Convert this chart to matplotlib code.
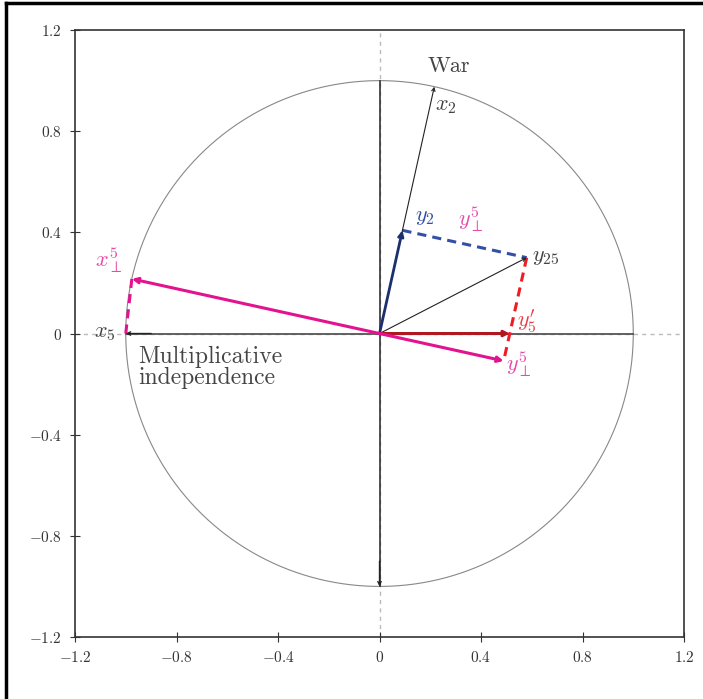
import matplotlib.pyplot as plt
import numpy as np
from matplotlib.lines import Line2D

plt.rcParams['font.family'] = 'cmr10'
plt.rcParams['mathtext.fontset'] = 'cm'
plt.rcParams['axes.formatter.use_mathtext'] = True

# vectors in the unit circle
x2 = np.array([0.216, 0.976])
x5 = np.array([-1.0, 0.0])
y25 = np.array([0.58, 0.30])
x_perp = np.array([-0.976, 0.216])

# projections
y2 = np.dot(y25, x2) * x2
y_perp = np.dot(y25, x_perp) * x_perp
t = y25[1] / x2[1]
y5p = np.array([y25[0] - t * x2[0], 0.0])

ticks = [-1.2, -0.8, -0.4, 0, 0.4, 0.8, 1.2]
tick_labels = ['$-1.2$', '$-0.8$', '$-0.4$', '$0$', '$0.4$', '$0.8$', '$1.2$']

pink = '#e3138f'
pink_lbl = '#e84aa8'
blue = '#3350a8'
navy = '#1c2f6e'
red = '#ee1c25'
darkred = '#b01820'
grey = '#444444'

fig = plt.figure(figsize=(7.03, 6.99), dpi=100)
ax = fig.add_axes([0.1067, 0.0887, 0.8663, 0.8683])
ax.set_xlim(-1.2, 1.2)
ax.set_ylim(-1.2, 1.2)
ax.set_xticks(ticks)
ax.set_yticks(ticks)
ax.set_xticklabels(tick_labels, fontsize=11, color='#333333')
ax.set_yticklabels(tick_labels, fontsize=11, color='#333333')
ax.tick_params(direction='inout', length=7, width=0.8, color='#333333', pad=6)
for s in ax.spines.values():
    s.set_color('#333333')
    s.set_linewidth(1.2)

# axis guide lines
ax.axhline(0, color='#bbbbbb', ls=(0, (3, 3)), lw=1, zorder=0)
ax.axvline(0, color='#bbbbbb', ls=(0, (3, 3)), lw=1, zorder=0)

th = np.linspace(0, 2 * np.pi, 400)
ax.plot(np.cos(th), np.sin(th), color='#888888', lw=0.8)

def arrow(p0, p1, color, lw, ms=8):
    ax.annotate('', xy=p1, xytext=p0,
                arrowprops=dict(arrowstyle='->', color=color, lw=lw,
                                shrinkA=0, shrinkB=0, mutation_scale=ms))

# vertical double arrow and x5 axis
ax.plot([0, 0], [-1, 1], color='#222222', lw=1.1)
arrow((0, -0.9), (0, -1), '#222222', 1.0, 6)
ax.plot([-1, 1], [0, 0], color='#555555', lw=1.3)
arrow((-0.9, 0), (-1, 0), '#222222', 1.0, 6)

arrow((0, 0), x2, '#222222', 0.8, 6)
arrow((0, 0), y25, '#222222', 0.8, 6)

# dashed projection lines
ax.plot([y2[0], y25[0]], [y2[1], y25[1]], color=blue, lw=2.2, ls=(0, (3, 2)))
ax.plot([y25[0], y_perp[0]], [y25[1], y_perp[1]], color=red, lw=2.2, ls=(0, (3, 2)))
ax.plot([x5[0], x_perp[0]], [x5[1], x_perp[1]], color=pink, lw=2.2, ls=(0, (3, 2)))

arrow((0, 0), y2, navy, 2.0)
arrow((0, 0), y5p, darkred, 2.2)
arrow((0, 0), x_perp, pink, 2.2)
arrow((0, 0), y_perp, pink, 2.2)

# labels
ax.text(0.19, 1.02, 'War', fontsize=16, color=grey, ha='left', va='bottom')
ax.text(0.22, 0.90, '$x_2$', fontsize=16, color=grey, ha='left', va='center')
ax.text(0.60, 0.30, '$y_{25}$', fontsize=16, color=grey, ha='left', va='center')
ax.text(0.14, 0.46, '$y_2$', fontsize=16, color=blue, ha='left', va='center')
ax.text(0.31, 0.45, r'$y_\perp^5$', fontsize=16, color=pink_lbl, ha='left', va='center')
ax.text(0.54, 0.05, "$y_5'$", fontsize=16, color='#e8404a', ha='left', va='center')
ax.text(0.50, -0.12, r'$y_\perp^5$', fontsize=16, color=pink_lbl, ha='left', va='center')
ax.text(-1.12, 0.29, r'$x_\perp^5$', fontsize=16, color=pink_lbl, ha='left', va='center')
ax.text(-1.04, 0.0, '$x_5$', fontsize=16, color=grey, ha='right', va='center')
ax.text(-0.95, -0.135, 'Multiplicative\nindependence', fontsize=17, color=grey,
        ha='left', va='center', linespacing=0.95)

# frame lines at the top and left of the figure
fig.add_artist(Line2D([0.009, 0.009], [0, 0.996], color='black', lw=2.5,
                      transform=fig.transFigure))
fig.add_artist(Line2D([0.009, 1], [0.996, 0.996], color='black', lw=2.5,
                      transform=fig.transFigure))

fig.savefig('out.png', dpi=100)
